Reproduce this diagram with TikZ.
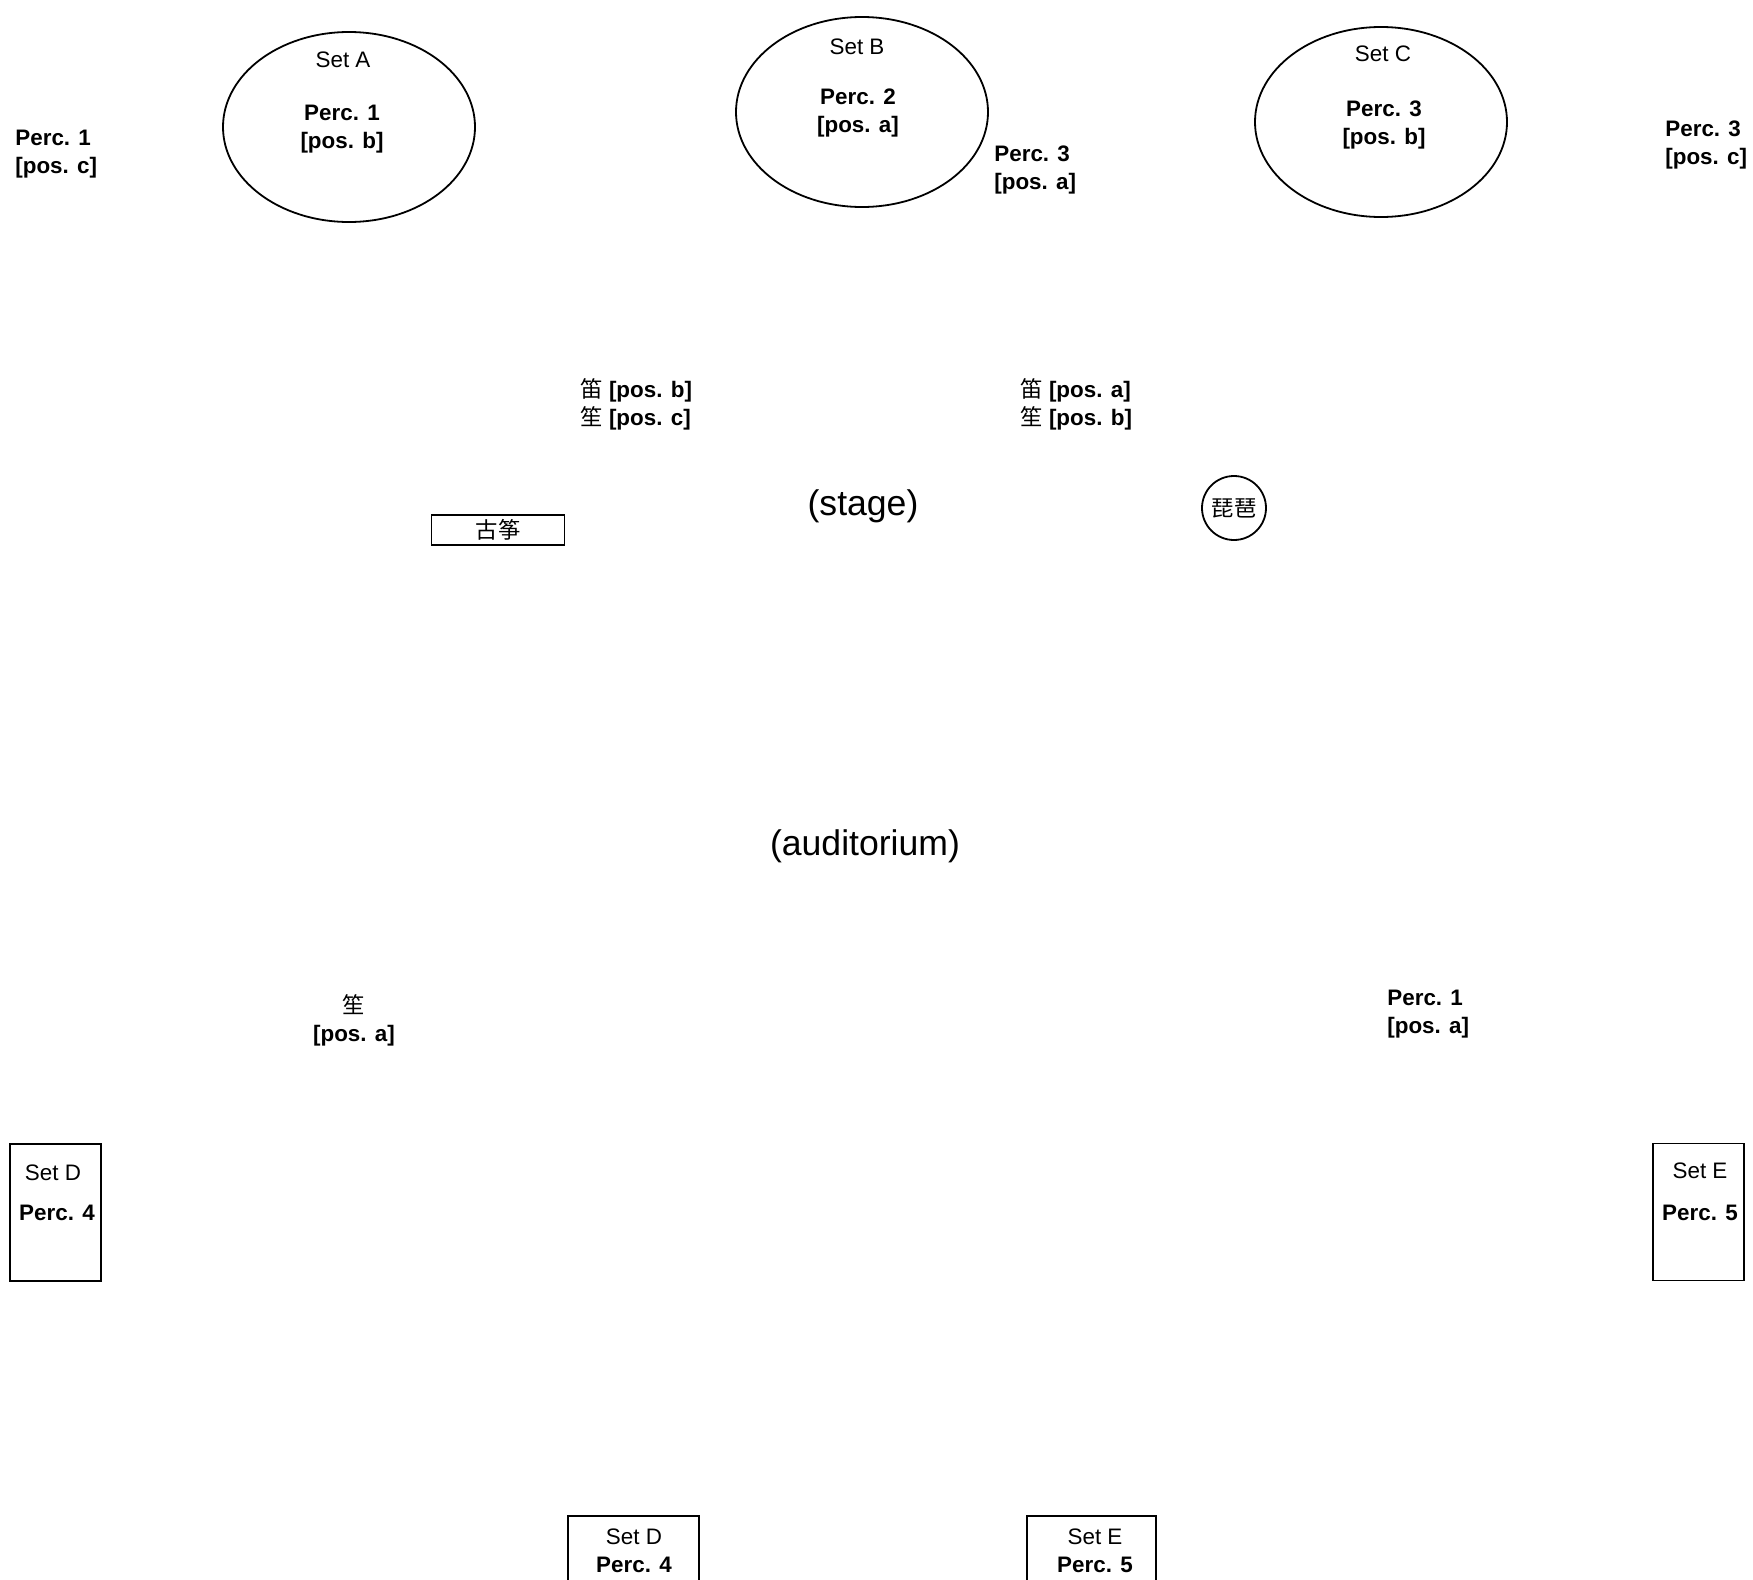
\documentclass[tikz,border=0pt]{standalone}
\usepackage{fontspec}
\setmainfont{Liberation Sans}
\newfontfamily\cjk{Noto Sans CJK SC}
\usetikzlibrary{shapes.geometric}
\tikzset{
  lbl/.style={font=\fontsize{11.2}{14}\selectfont, align=center, inner sep=0pt},
  blbl/.style={lbl, font=\fontsize{11.2}{14}\selectfont\bfseries},
  lblw/.style={lbl, align=left, anchor=west},
  blblw/.style={blbl, align=left, anchor=west},
  hall/.style={font=\fontsize{17.8}{21}\selectfont, inner sep=0pt},
  setring/.style={draw, ellipse, line width=0.9pt, minimum width=126pt, minimum height=95pt, inner sep=0pt},
  setbox/.style={draw, rectangle, line width=0.9pt, minimum width=45.5pt, minimum height=68.5pt, inner sep=0pt},
}
\begin{document}
\begin{tikzpicture}[x=0.5pt, y=-0.5pt]
	\useasboundingbox (0,0) rectangle (1753,1580);
	%%%%% STAGE %%%%%
	
	\node[setring] (ringA) at (349,127) {};
	\node[lbl] (setA) at (343,60) {Set A};
	\node[blbl] (percAb) at (342,129) {Perc. 1\\{[pos. b]}};
	
	\node[setring] (ringB) at (862,112) {};
	\node[lbl] (setB) at (857,47) {Set B};
	\node[blbl] (percBa) at (858,113) {Perc. 2\\{[pos. a]}};
	
	\node[setring] (ringC) at (1381,122) {};
	\node[lbl] (setC) at (1383,54) {Set C};
	\node[blbl] (percCb) at (1384,125) {Perc. 3\\{[pos. b]}};
	
	\node[blblw] (percOnec) at (15,154) {Perc. 1\\{[pos. c]}};
	\node[blblw] (percThreea) at (994,170) {Perc. 3\\{[pos. a]}};
	\node[blblw] (percThreec) at (1665,145) {Perc. 3\\{[pos. c]}};
	
	\node[lblw] (windL) at (580,404) {{\cjk 笛} \textbf{[pos. b]}\\{\cjk 笙} \textbf{[pos. c]}};
	\node[lblw] (windR) at (1020,404) {{\cjk 笛} \textbf{[pos. a]}\\{\cjk 笙} \textbf{[pos. b]}};
	
	\node[hall] (stage) at (863,506) {(stage)};
	\node[lbl, draw, line width=0.9pt, minimum width=66.5pt, minimum height=15pt] (guzheng) at (498,530) {\cjk 古筝};
	\node[lbl, draw, circle, line width=0.9pt, minimum size=32pt] (pipa) at (1234,508) {\cjk 琵琶};
	
	%%%%% AUDITORIUM %%%%%
	
	\node[hall] (hall) at (865,846) {(auditorium)};
	
	\node[lbl] (shengA) at (354,1020) {{\cjk 笙}\\\textbf{[pos. a]}};
	\node[blblw] (percOnea) at (1387,1014) {Perc. 1\\{[pos. a]}};
	
	\node[setbox] (boxD) at (55.5,1212.5) {};
	\node[lbl] (setD) at (53,1173) {Set D};
	\node[blbl] (percD) at (57,1213) {Perc. 4};
	
	\node[setbox] (boxE) at (1698.5,1212) {};
	\node[lbl] (setE) at (1700,1171) {Set E};
	\node[blbl] (percE) at (1700,1213) {Perc. 5};
	
	\node[lbl] (setDlow) at (634,1551) {Set D\\\textbf{Perc. 4}};
	\draw[line width=0.9pt] (568,1580) -- (568,1516) -- (699,1516) -- (699,1580);
	\node[lbl] (setElow) at (1095,1551) {Set E\\\textbf{Perc. 5}};
	\draw[line width=0.9pt] (1027,1580) -- (1027,1516) -- (1156,1516) -- (1156,1580);
	
	%%%%% END %%%%%
\end{tikzpicture}
\end{document}
